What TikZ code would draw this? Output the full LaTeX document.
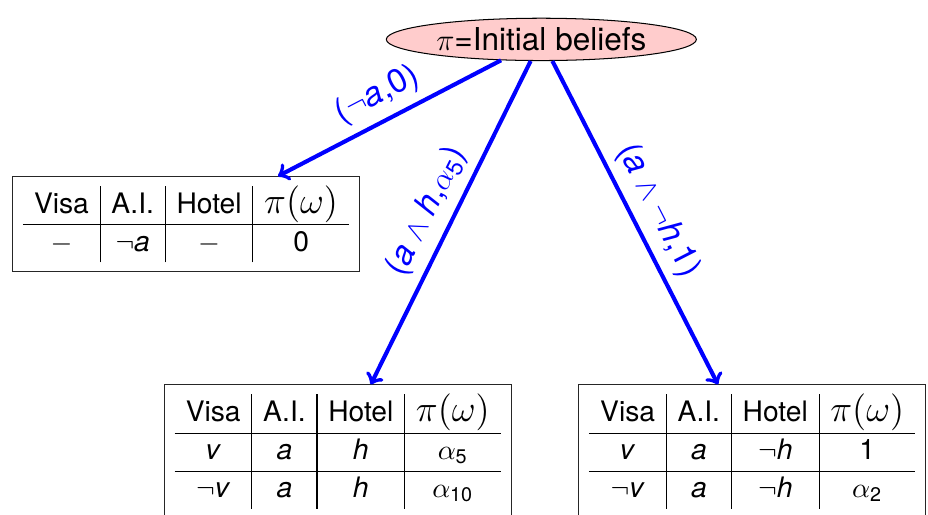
\documentclass[tikz,border=0pt]{standalone}
\usepackage{fontspec}
\setmainfont{TeX Gyre Heros}
\usepackage{amsmath}
\usetikzlibrary{shapes.geometric}
\newcommand{\sv}[1]{\textit{#1}}
\newcommand{\piw}{{\fontsize{14}{16}\selectfont$\pi(\omega)$}}
\setlength{\tabcolsep}{4.4pt}
\renewcommand{\arraystretch}{1.09}
\begin{document}
\begin{tikzpicture}[>=to, font=\fontsize{11}{13.2}\selectfont,
    belief/.style={ellipse, draw, fill=red!20, minimum width=4.25cm, minimum height=0.58cm, inner sep=0pt,
      font=\fontsize{12.3}{14.5}\selectfont},
    tab/.style={draw=black!85, inner xsep=4pt, inner ysep=3.5pt},
    rev/.style={->, blue, ultra thick},
    revlabel/.style={sloped, above, font=\fontsize{13}{15}\selectfont}]
  \useasboundingbox (0,0) rectangle (12.72,7.05);
  \node[belief] (pi) at (7.42,6.51) {$\pi$=Initial beliefs};
  % worlds after each revision
  \node[tab] (noai) at (2.55,3.98) {\begin{tabular}{c|c|c|c}
      Visa & A.I. & Hotel & \piw\\ \hline
      $-$ & $\neg$\sv{a} & $-$ & 0
    \end{tabular}\hspace{4pt}};
  \node[tab, anchor=north] (aih) at (4.63,1.78) {\begin{tabular}{c|c|c|c}
      Visa & A.I. & Hotel & \piw\\ \hline
      \sv{v} & \sv{a} & \sv{h} & $\alpha_{\text{5}}$\\ \hline
      $\neg$\sv{v} & \sv{a} & \sv{h} & $\alpha_{\text{10}}$
    \end{tabular}\hspace{4pt}};
  \node[tab, anchor=north] (ainoh) at (10.31,1.78) {\begin{tabular}{c|c|c|c}
      Visa & A.I. & Hotel & \piw\\ \hline
      \sv{v} & \sv{a} & $\neg$\sv{h} & 1\\ \hline
      $\neg$\sv{v} & \sv{a} & $\neg$\sv{h} & $\alpha_{\text{2}}$
    \end{tabular}\hspace{4pt}};
  % revisions
  \draw[rev] (pi) -- node[revlabel] {($\neg$\sv{a},0)} (noai);
  \draw[rev] (pi) -- node[revlabel] {(\sv{a}$\;\wedge\;$\sv{h},$\alpha_{\text{5}}$)} (aih);
  \draw[rev] (pi) -- node[revlabel] {(\sv{a}$\;\wedge\;\neg$\sv{h},1)} (ainoh);
\end{tikzpicture}
\end{document}
